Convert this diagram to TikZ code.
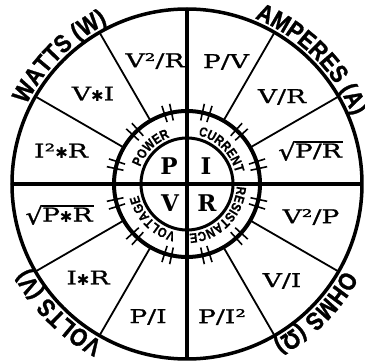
\documentclass[tikz,border=0pt]{standalone}
\usepackage{fontspec}
\usepackage{graphicx}
\usetikzlibrary{decorations.text}
\newfontfamily\gothic[FakeStretch=0.86,FakeBold=1.2]{Liberation Sans Bold}
\newfontfamily\ringgothic[FakeStretch=0.85,FakeBold=0.6]{Liberation Sans Bold}
\newfontfamily\sectfont[FakeStretch=1.4,FakeBold=1.0]{DejaVu Serif}
\newfontfamily\bigfont{DejaVu Serif Bold}
\newfontfamily\symfont{DejaVu Sans}
\newcommand\outerfnt{\gothic\fontsize{25}{25}\selectfont}
\newcommand\ringfnt{\ringgothic\fontsize{13.5}{13.5}\selectfont}
\newcommand\starx{\raisebox{-0.05em}{\symfont\fontsize{15}{15}\selectfont ✱}}
\newcommand\rootx[1]{\mbox{\setbox0=\hbox{#1}\setbox2=\hbox{\raisebox{-0.15em}{\scalebox{1.05}[1.25]{√}}}\copy2\kern-0.06em\rlap{\rule[\dimexpr\ht2-0.1em\relax]{\dimexpr\wd0+0.05em\relax}{0.1em}}\box0}}
\tikzset{
  outerc/.style={line width=3.5pt},
  midc/.style={line width=4pt},
  innerc/.style={line width=3pt},
  crossl/.style={line width=3.5pt},
  spoke/.style={line width=1.8pt},
  tickm/.style={line width=1.6pt},
  sect/.style={font=\sectfont\fontsize{19}{19}\selectfont, inner sep=0pt},
  big/.style={font=\bigfont\fontsize{23}{23}\selectfont, inner sep=0pt}
}
\begin{document}
\begin{tikzpicture}[x=1pt,y=1pt]
\useasboundingbox (-187,-180) rectangle (178,184);
\coordinate (O) at (0,0);
% spokes
\foreach \a in {30,60,120,150,210,240,300,330}
  \draw[spoke] (\a:73pt) -- (\a:175pt);
% cross
\coordinate (L) at (180:175pt);
\coordinate (Rr) at (0:175pt);
\coordinate (T) at (90:175pt);
\coordinate (B) at (270:175pt);
\draw[crossl] (L) -- (Rr);
\draw[crossl] (T) -- (B);
% circles
\draw[outerc] (O) circle[radius=175pt];
\draw[midc] (O) circle[radius=73pt];
\draw[innerc] (O) circle[radius=46pt];
% ticks
\foreach \a in {15,45,...,345}{
  \draw[tickm] ({\a+2.8}:65pt) -- ({\a+2.8}:82pt);
  \draw[tickm] ({\a-2.8}:65pt) -- ({\a-2.8}:82pt);
}
% ring labels
\path[decorate,decoration={text along path,text align=center,text={|\ringfnt|POWER}}] (195:49.8pt) arc[start angle=195,end angle=75,radius=49.8pt];
\path[decorate,decoration={text along path,text align=center,text={|\ringfnt|CURRENT}}] (105:49.8pt) arc[start angle=105,end angle=-15,radius=49.8pt];
\path[decorate,decoration={text along path,text align=center,text={|\ringfnt|RESISTANCE}}] (15:49.8pt) arc[start angle=15,end angle=-105,radius=49.8pt];
\path[decorate,decoration={text along path,text align=center,text={|\ringfnt|VOLTAGE}}] (285:49.8pt) arc[start angle=285,end angle=165,radius=49.8pt];
% outer labels
\path[decorate,decoration={text along path,text align=center,text={|\outerfnt|WATTS (W)}}] (195:179pt) arc[start angle=195,end angle=75,radius=179pt];
\path[decorate,decoration={text along path,text align=center,text={|\outerfnt|AMPERES (A)}}] (105:179pt) arc[start angle=105,end angle=-15,radius=179pt];
\path[decorate,decoration={text along path,text align=center,text={|\outerfnt|OHMS (Ω)}}] (15:179pt) arc[start angle=15,end angle=-105,radius=179pt];
\path[decorate,decoration={text along path,text align=center,text={|\outerfnt|VOLTS (V)}}] (285:179pt) arc[start angle=285,end angle=165,radius=179pt];
% centre letters
\node[big] (p) at (-18,18) {P};
\node[big] (i) at (19,18) {I};
\node[big] (v) at (-17,-19) {V};
\node[big] (r) at (20,-19) {R};
% sector formulas
\node[sect] (s1) at (-32,123) {V²/R};
\node[sect] (s2) at (-94,90) {V\starx I};
\node[sect] (s3) at (-126,33) {I²\starx R};
\node[sect] (s4) at (39,122) {P/V};
\node[sect] (s5) at (95,87) {V/R};
\node[sect] (s6) at (123,33) {\rootx{P/R}};
\node[sect] (s7) at (-128,-31) {\rootx{P\starx R}};
\node[sect] (s8) at (-99,-94) {I\starx R};
\node[sect] (s9) at (-39,-133) {P/I};
\node[sect] (s10) at (124,-33) {V²/P};
\node[sect] (s11) at (95,-97) {V/I};
\node[sect] (s12) at (35,-133) {P/I²};
\end{tikzpicture}
\end{document}
